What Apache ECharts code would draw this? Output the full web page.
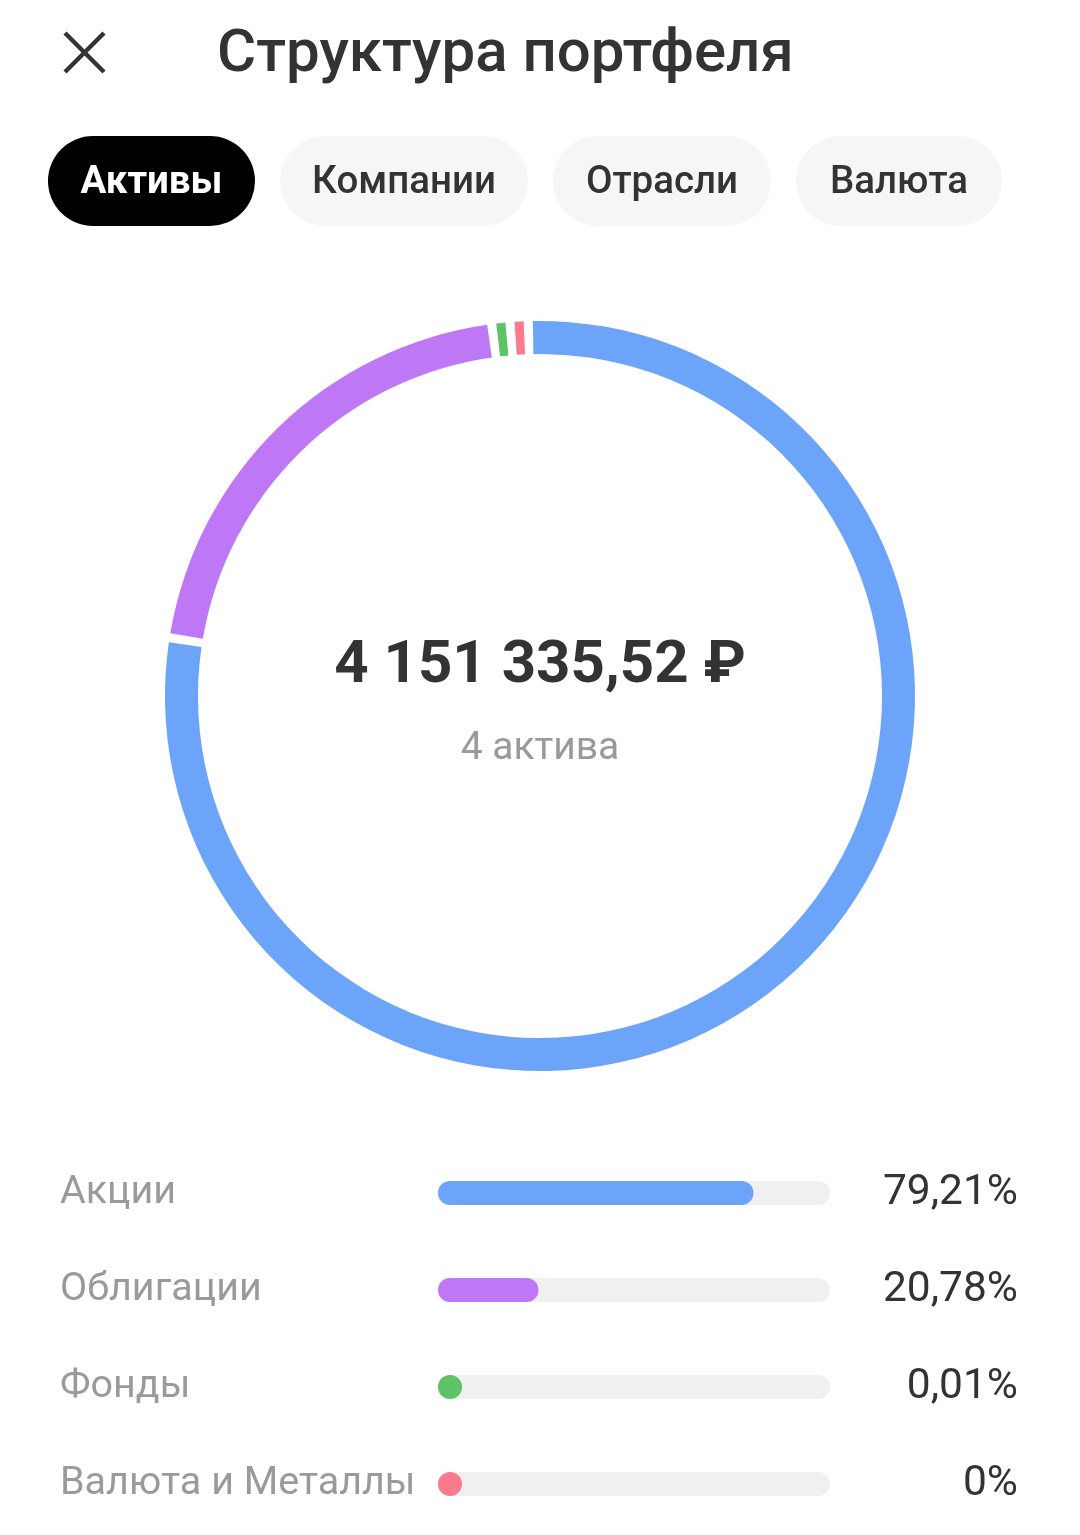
<!DOCTYPE html>
<html><head><meta charset="utf-8">
<script src="https://cdn.jsdelivr.net/npm/echarts@6/dist/echarts.min.js"></script>
<style>html,body{margin:0;padding:0;background:#fff}#c{width:1080px;height:1535px}</style>
</head><body><div id="c"></div>
<script>
const pageTitle = 'Структура портфеля';
const tabs = ['Активы', 'Компании', 'Отрасли', 'Валюта'];
const categories = ['Акции', 'Облигации', 'Фонды', 'Валюта и Металлы'];
const shares = [79.21, 20.78, 0.01, 0];
const colors = ['#6ba4f8', '#bf78f5', '#5ec266', '#fb7a8e'];
const totalLabel = '4 151 335,52 ₽';
const countLabel = '4 актива';

const pctText = shares.map(v => String(v).replace('.', ',') + '%');
const FONT = 'Roboto, "Noto Sans", sans-serif';

const tabBoxes = [[48, 207], [280, 248], [553, 218], [796, 206]];
const graphic = [];
// close icon
graphic.push({type:'line', shape:{x1:65,y1:33,x2:104,y2:72}, style:{stroke:'#333',lineWidth:4.5}});
graphic.push({type:'line', shape:{x1:104,y1:33,x2:65,y2:72}, style:{stroke:'#333',lineWidth:4.5}});
graphic.push({type:'text', x:217, y:55.5, style:{text:pageTitle, font:'500 60px ' + FONT, fill:'#333', verticalAlign:'middle'}});
tabs.forEach((t, i) => {
  const [x, w] = tabBoxes[i];
  const active = i === 0;
  graphic.push({type:'rect', shape:{x:x, y:136, width:w, height:90, r:45}, style:{fill: active ? '#000' : '#f5f6f6'}});
  graphic.push({type:'text', x:x + w/2, y:183.5, style:{text:t, font:(active ? 'bold ' : '500 ') + '38.5px ' + FONT, fill: active ? '#fff' : '#333', align:'center', verticalAlign:'middle'}});
});
graphic.push({type:'text', x:540, y:667, style:{text:totalLabel, font:'bold 60px ' + FONT, fill:'#333', align:'center', verticalAlign:'middle'}});
graphic.push({type:'text', x:540, y:749, style:{text:countLabel, font:'39px ' + FONT, fill:'#9a9a9a', align:'center', verticalAlign:'middle'}});

const chart = echarts.init(document.getElementById('c'));
chart.setOption({
  animation: false,
  backgroundColor: '#fff',
  graphic: graphic,
  grid: {left: 438, right: 250, top: 1144.5, height: 388},
  xAxis: {type:'value', min:0, max:100, show:false},
  yAxis: [
    {type:'category', data:categories, inverse:true, axisLine:{show:false}, axisTick:{show:false},
     axisLabel:{align:'left', margin:378, fontSize:39.5, color:'#9a9a9a', fontFamily:FONT, padding:[8,0,0,0]}},
    {type:'category', data:categories, inverse:true, position:'right', axisLine:{show:false}, axisTick:{show:false},
     axisLabel:{align:'right', margin:188, fontSize:42.5, color:'#333', fontFamily:FONT, padding:[8,0,0,0],
       formatter:(v, idx) => pctText[idx]}}
  ],
  series: [
    {
      type:'pie', center:[540, 696], radius:[342, 375], startAngle:91.8, clockwise:true,
      padAngle:1.4, minAngle:1.4, silent:true, label:{show:false}, labelLine:{show:false},
      data: categories.map((c, i) => ({name:c, value:shares[i], itemStyle:{color:colors[i]}}))
    },
    {
      type:'custom', silent:true, encode:{x:0, y:1},
      data: categories.map((c, i) => [shares[i], i]),
      renderItem: function (params, api) {
        const i = api.value(1), v = api.value(0);
        const s = api.coord([0, i]), e = api.coord([100, i]), f = api.coord([v, i]);
        const h = 24, trackW = e[0] - s[0];
        const fillW = h + (f[0] - s[0]) * (trackW - h) / trackW;
        return {type:'group', children:[
          {type:'rect', shape:{x:s[0], y:s[1]-h/2, width:trackW, height:h, r:h/2}, style:{fill:'#eff0f2'}},
          {type:'rect', shape:{x:s[0], y:s[1]-h/2, width:fillW, height:h, r:h/2}, style:{fill:colors[i]}}
        ]};
      }
    }
  ]
});
</script></body></html>
